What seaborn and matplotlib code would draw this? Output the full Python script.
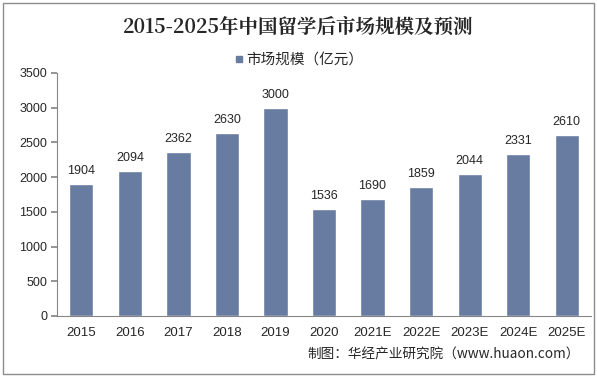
import matplotlib
matplotlib.use("Agg")
import matplotlib.pyplot as plt
import seaborn as sns
import pandas as pd
from matplotlib.patches import Rectangle
from matplotlib.lines import Line2D

years = ["2015", "2016", "2017", "2018", "2019", "2020", "2021E", "2022E", "2023E", "2024E", "2025E"]
values = [1904, 2094, 2362, 2630, 3000, 1536, 1690, 1859, 2044, 2331, 2610]
yticks = [0, 500, 1000, 1500, 2000, 2500, 3000, 3500]
series_name = "市场规模（亿元）"
title = "2015-2025年中国留学后市场规模及预测"
source = "制图：华经产业研究院（www.huaon.com）"

sns.set_theme(style="white")
plt.rcParams['font.family'] = ['Noto Sans CJK SC', 'DejaVu Sans']

df = pd.DataFrame({"year": years, "value": values})
color = "#687BA1"

fig = plt.figure(figsize=(5.97, 3.77), dpi=100)
ax = fig.add_axes([57/597, 61/377, (591-57)/597, (316-73)/377])
sns.barplot(data=df, x="year", y="value", color=color, width=0.5, ax=ax, saturation=1)

ax.set_ylim(0, 3500)
ax.set_xlim(-0.5, len(years) - 0.5)
ax.set_yticks(yticks)
ax.set_yticklabels([str(t) for t in yticks], fontsize=9, family='Liberation Sans')
ax.set_xticks(range(len(years)))
ax.set_xticklabels(years, fontsize=9.5, family='Liberation Sans')
ax.set_xticks([i - 0.5 for i in range(len(years) + 1)], minor=True)
ax.tick_params(axis='x', which='major', length=0, pad=8)
ax.tick_params(axis='x', which='minor', length=4, color='#868686', direction='out')
ax.tick_params(axis='y', length=4, color='#868686', direction='out', left=True, pad=3)
ax.set_xlabel("")
ax.set_ylabel("")
for s in ["top", "right"]:
    ax.spines[s].set_visible(False)
for s in ["left", "bottom"]:
    ax.spines[s].set_color("#868686")
    ax.spines[s].set_linewidth(0.8)

for c in ax.containers:
    ax.bar_label(c, labels=[str(v) for v in values], padding=5, fontsize=9, family='Liberation Sans')

fig.text(0.5, 1 - 27/377, title, ha='center', va='center', fontsize=14, fontweight='bold',
         family=['Noto Serif CJK SC', 'Noto Sans CJK SC', 'DejaVu Sans'])

handle = Line2D([], [], marker='s', color=color, linestyle='none', markersize=5)
fig.legend([handle], [series_name], loc='center', bbox_to_anchor=(0.5, 1 - 60/377), frameon=False,
           fontsize=10.5, handletextpad=0.1, handlelength=0.8)

fig.text(580/597, 1 - 355/377, source, ha='right', va='center', fontsize=9.8)

fig.patches.append(Rectangle((3/597, 3/377), 591/597, 371/377, transform=fig.transFigure,
                             fill=False, edgecolor='#8c8c8c', linewidth=1))

fig.savefig("out.png", dpi=100)
